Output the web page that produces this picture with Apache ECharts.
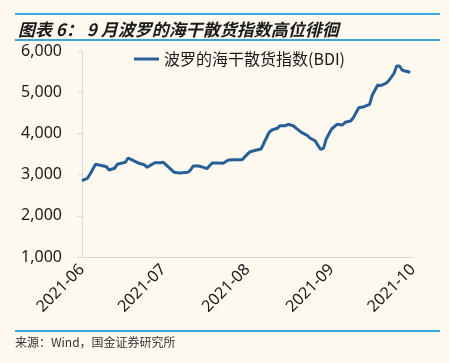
<!DOCTYPE html>
<html>
<head>
<meta charset="utf-8">
<script src="https://cdn.jsdelivr.net/npm/echarts@6/dist/echarts.min.js"></script>
<style>
html,body{margin:0;padding:0;background:#fdf9ef;}
#c{width:449px;height:363px;}
</style>
</head>
<body>
<div id="c"></div>
<script>
const titleText = '图表 6： 9 月波罗的海干散货指数高位徘徊';
const sourceText = '来源：Wind，国金证券研究所';
const seriesName = '波罗的海干散货指数(BDI)';
const dates = [
 '2021-06-01','2021-06-03','2021-06-04','2021-06-06','2021-06-09','2021-06-10','2021-06-11','2021-06-13','2021-06-14','2021-06-17',
 '2021-06-18','2021-06-20','2021-06-22','2021-06-24','2021-06-25','2021-06-27','2021-06-28','2021-06-30','2021-07-01','2021-07-02',
 '2021-07-03','2021-07-05','2021-07-07','2021-07-08','2021-07-10','2021-07-11','2021-07-12','2021-07-14','2021-07-15','2021-07-17',
 '2021-07-18','2021-07-19','2021-07-21','2021-07-23','2021-07-25','2021-07-27','2021-07-30','2021-07-31','2021-08-01','2021-08-02',
 '2021-08-03','2021-08-04','2021-08-06','2021-08-07','2021-08-09','2021-08-10','2021-08-12','2021-08-13','2021-08-15','2021-08-16',
 '2021-08-18','2021-08-19','2021-08-21','2021-08-23','2021-08-24','2021-08-26','2021-08-27','2021-08-28','2021-08-29','2021-08-30',
 '2021-08-31','2021-09-01','2021-09-03','2021-09-05','2021-09-06','2021-09-08','2021-09-09','2021-09-11','2021-09-13','2021-09-15',
 '2021-09-16','2021-09-18','2021-09-19','2021-09-21','2021-09-22','2021-09-24','2021-09-25','2021-09-26','2021-09-27','2021-09-28',
 '2021-09-30'
];
const bdi = [
 2852,2910,3015,3250,3209,3192,3112,3153,3250,3299,
 3403,3337,3274,3240,3177,3257,3289,3289,3299,3233,
 3177,3056,3039,3046,3056,3112,3209,3209,3192,3143,
 3216,3282,3282,3274,3354,3362,3362,3430,3500,3556,
 3573,3590,3621,3760,4027,4083,4124,4187,4187,4221,
 4180,4124,4017,3954,3888,3816,3702,3614,3635,3860,
 3985,4107,4221,4204,4269,4301,4381,4624,4648,4706,
 4932,5175,5158,5214,5272,5459,5636,5636,5539,5515,
 5483
];
const axisMin = '2021-06-01';
const axisMax = '2021-10-01';
const yTicks = [1000, 6000, 1000]; // min, max, interval

const chart = echarts.init(document.getElementById('c'), null, {renderer:'canvas'});
const DAY = 86400000;
chart.setOption({
  backgroundColor: '#fdf9ef',
  animation: false,
  title: {
    text: titleText,
    left: 13, top: 16,
    textStyle: {fontFamily: '"Noto Sans CJK SC"', fontSize: 17, fontWeight: 'bold', fontStyle: 'italic', color: '#1a1a1a'}
  },
  graphic: [
    {type:'line', shape:{x1:15,y1:14,x2:440,y2:14}, style:{stroke:'#3aa6e0', lineWidth:2}},
    {type:'line', shape:{x1:15,y1:40,x2:440,y2:40}, style:{stroke:'#3aa6e0', lineWidth:2}},
    {type:'line', shape:{x1:15,y1:331,x2:440,y2:331}, style:{stroke:'#3aa6e0', lineWidth:2}},
    {type:'text', left:15, top:336, style:{text: sourceText, font:'12px "Noto Sans CJK SC"', fill:'#333'}}
  ],
  legend: {
    data: [seriesName],
    left: 129, top: 46,
    icon: 'rect', itemWidth: 25, itemHeight: 3, itemGap: 4,
    textStyle: {fontFamily: '"Noto Sans CJK SC"', fontSize: 16, color: '#1a1a1a'}
  },
  grid: {left: 82, right: 36, top: 51, bottom: 106, containLabel: false},
  xAxis: {
    type: 'time',
    min: axisMin, max: axisMax,
    minInterval: 28*DAY, maxInterval: 31*DAY,
    axisLine: {show: true, lineStyle: {color: '#d9d9d9', width: 1}},
    axisTick: {show: false},
    splitLine: {show: false},
    axisLabel: {
      rotate: 45, margin: 10,
      formatter: '{yyyy}-{MM}',
      fontFamily: '"Noto Sans"', fontSize: 16, color: '#1a1a1a',
      showMinLabel: true, showMaxLabel: true, hideOverlap: false
    }
  },
  yAxis: {
    type: 'value',
    min: yTicks[0], max: yTicks[1], interval: yTicks[2],
    axisLine: {show: true, lineStyle: {color: '#d9d9d9', width: 1}},
    axisTick: {show: true, length: 5, lineStyle: {color: '#d9d9d9'}},
    splitLine: {show: false},
    axisLabel: {
      margin: 20,
      formatter: v => v.toLocaleString('en-US'),
      fontFamily: '"Noto Sans"', fontSize: 16, color: '#1a1a1a'
    }
  },
  series: [{
    name: seriesName,
    type: 'line',
    symbol: 'none',
    data: dates.map((d, i) => [d, bdi[i]]),
    lineStyle: {color: '#285f97', width: 3},
    itemStyle: {color: '#285f97'}
  }]
});
</script>
</body>
</html>
